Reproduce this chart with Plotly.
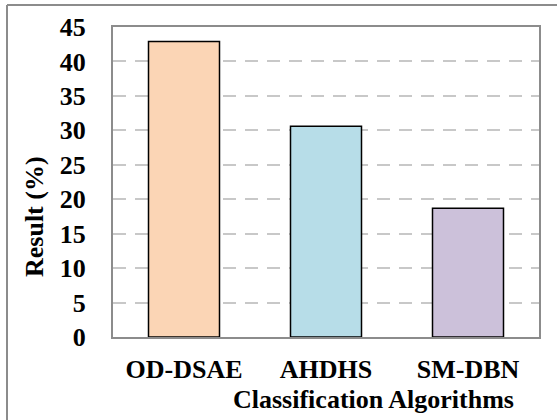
import plotly.graph_objects as go

categories = ["OD-DSAE", "AHDHS", "SM-DBN"]
values = [42.9, 30.6, 18.7]
bar_colors = ["#FBD5B5", "#B7DDE8", "#CCC1DA"]
y_ticks = [0, 5, 10, 15, 20, 25, 30, 35, 40, 45]

W, H = 557, 420
L, R, T, B = 113, 18, 27, 83
pw, ph = W - L - R, H - T - B

def px(x):
    return (x - L) / pw

def py(y):
    return (H - B - y) / ph

font_family = "Times New Roman, Liberation Serif, serif"
fs = 26

fig = go.Figure()
fig.add_trace(go.Bar(
    x=categories, y=values,
    marker=dict(color=bar_colors, line=dict(color="#000000", width=1.5)),
    width=0.5,
))

fig.update_layout(
    width=W, height=H,
    margin=dict(l=L, r=R, t=T, b=B, autoexpand=False),
    paper_bgcolor="white", plot_bgcolor="white",
    showlegend=False,
    font=dict(family=font_family, size=fs, color="black", weight="bold"),
    xaxis=dict(
        automargin=False,
        showline=True, mirror=True, linecolor="#8C8C8C", linewidth=2,
        showgrid=False, ticks="outside", ticklen=8, tickcolor="rgba(0,0,0,0)",
        tickfont=dict(family=font_family, size=fs, color="black", weight="bold"),
    ),
    yaxis=dict(
        automargin=False,
        range=[0, 45], tickvals=y_ticks,
        showline=True, mirror=True, linecolor="#8C8C8C", linewidth=2,
        showgrid=True, gridcolor="#C8C8C8", gridwidth=2, griddash="13px,9px",
        zeroline=False,
        ticks="outside", ticklen=20, tickcolor="rgba(0,0,0,0)",
        tickfont=dict(family=font_family, size=fs, color="black", weight="bold"),
    ),
    annotations=[
        dict(text="Classification Algorithms", xref="paper", yref="paper",
             x=px(373.5), y=py(399), xanchor="center", yanchor="middle",
             showarrow=False,
             font=dict(family=font_family, size=fs, color="black", weight="bold")),
        dict(text="Result (%)", xref="paper", yref="paper",
             x=px(34), y=py(217), xanchor="center", yanchor="middle",
             textangle=-90, showarrow=False,
             font=dict(family=font_family, size=fs, color="black", weight="bold")),
    ],
    shapes=[
        dict(type="line", xref="paper", yref="paper", x0=px(7), y0=py(5), x1=px(560), y1=py(5),
             line=dict(color="#8C8C8C", width=2)),
        dict(type="line", xref="paper", yref="paper", x0=px(7), y0=py(5), x1=px(7), y1=py(425),
             line=dict(color="#8C8C8C", width=2)),
    ],
)

fig.write_html("out.html", config={"displayModeBar": False},
               post_script="document.body.style.margin='0';")
